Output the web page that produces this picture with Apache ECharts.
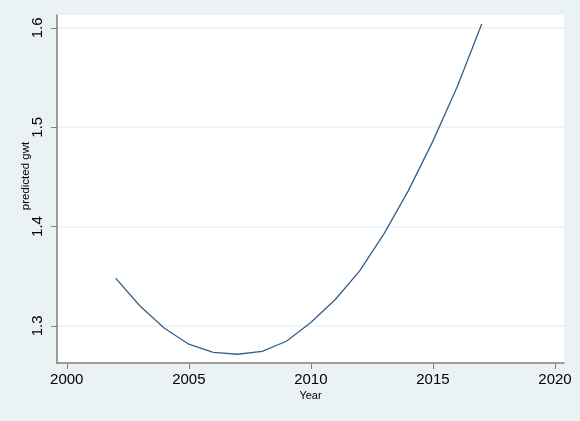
<!DOCTYPE html>
<html>
<head>
<meta charset="utf-8">
<script src="https://cdn.jsdelivr.net/npm/echarts@6/dist/echarts.min.js"></script>
<style>
  html, body { margin: 0; padding: 0; background: #eaf2f3; }
  #chart { width: 580px; height: 421px; }
</style>
</head>
<body>
<div id="chart"></div>
<script>
// predicted gwt by year
const years = [2002, 2003, 2004, 2005, 2006, 2007, 2008, 2009, 2010, 2011, 2012, 2013, 2014, 2015, 2016, 2017]
const predicted = [1.348, 1.320, 1.2976, 1.2815, 1.2734, 1.2714, 1.2744, 1.2845, 1.3033, 1.3265, 1.3553, 1.3929, 1.4364, 1.486, 1.541, 1.604]
const xTicks = [2000, 2005, 2010, 2015, 2020]
const yTicks = [1.3, 1.4, 1.5, 1.6]

const chart = echarts.init(document.getElementById('chart'))

const font = 'Liberation Sans, Arial, sans-serif'

const option = {
  backgroundColor: '#eaf2f3',
  animation: false,
  grid: {
    left: 57,
    right: 16,
    top: 15,
    bottom: 58,
    show: true,
    backgroundColor: '#ffffff',
    borderWidth: 0
  },
  xAxis: {
    type: 'value',
    min: 1999.6,
    max: 2020.37,
    name: 'Year',
    nameLocation: 'middle',
    nameGap: 27,
    nameMoveOverlap: false,
    nameTextStyle: { color: '#000', fontSize: 11, fontFamily: font },
    axisLine: { show: true, lineStyle: { color: '#808080', width: 1.5 } },
    axisTick: { show: true, length: 6, lineStyle: { color: '#808080' }, customValues: xTicks },
    axisLabel: {
      color: '#000', fontSize: 15, fontFamily: font, margin: 9,
      customValues: xTicks,
      formatter: v => String(v)
    },
    splitLine: { show: false }
  },
  yAxis: {
    type: 'value',
    min: 1.2626,
    max: 1.613,
    name: 'predicted gwt',
    nameLocation: 'middle',
    nameGap: 25,
    nameMoveOverlap: false,
    nameRotate: 90,
    nameTextStyle: { color: '#000', fontSize: 11.5, fontFamily: font, padding: [0, 0, 0, 26] },
    axisLine: { show: true, lineStyle: { color: '#808080', width: 1.5 } },
    axisTick: { show: true, length: 6, lineStyle: { color: '#808080' }, customValues: yTicks },
    axisLabel: {
      color: '#000', fontSize: 15, fontFamily: font, rotate: 90, margin: 12,
      customValues: yTicks,
      formatter: v => v.toFixed(1)
    },
    splitLine: { show: true, lineStyle: { color: '#eaf2f3', width: 1.5 } }
  },
  series: [{
    type: 'line',
    data: years.map((y, i) => [y, predicted[i]]),
    showSymbol: false,
    lineStyle: { color: '#35608c', width: 1.3 }
  }]
}

chart.setOption(option)
</script>
</body>
</html>
